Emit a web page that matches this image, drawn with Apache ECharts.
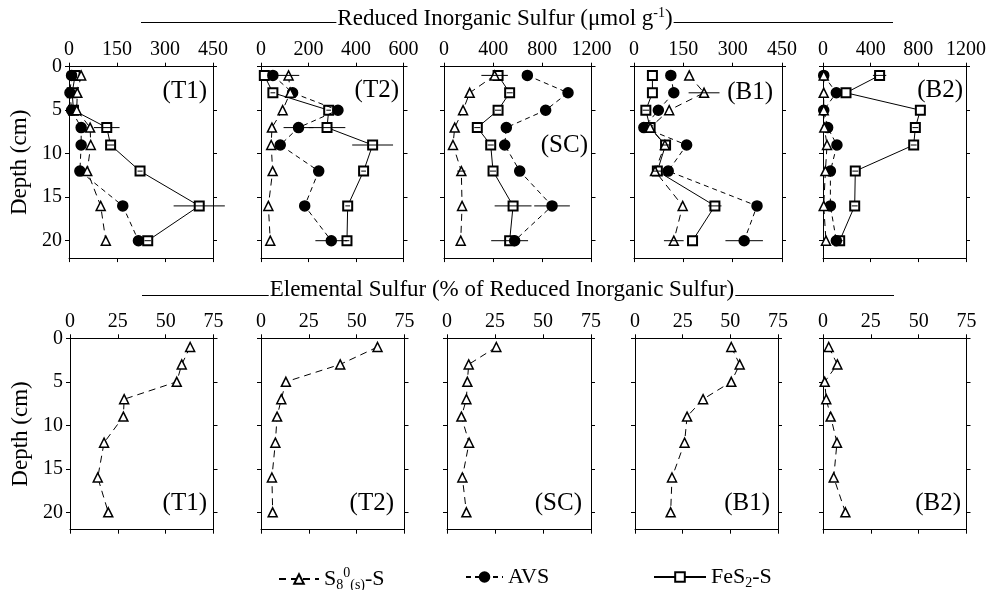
<!DOCTYPE html>
<html>
<head>
<meta charset="utf-8">
<script src="https://cdn.jsdelivr.net/npm/echarts@6/dist/echarts.min.js"></script>
<style>
  html, body { margin: 0; padding: 0; background: #fff; }
  #chart { width: 990px; height: 590px; }
</style>
</head>
<body>
<div id="chart"></div>
<script>
  const depths = [1, 3, 5, 7, 9, 12, 16, 20];
  const sites = ['T1', 'T2', 'SC', 'B1', 'B2'];

  // top row: reduced inorganic sulfur (umol/g), one row per site
  const risMax = [450, 600, 1200, 450, 1200];
  const risStep = [150, 200, 400, 150, 400];
  const s8Ris = [
    [38, 26, 24, 66, 68, 57, 99, 115],
    [116, 123, 91, 46, 43, 49, 31, 39],
    [412, 209, 155, 87, 73, 141, 147, 136],
    [168, 213, 107, 49, 94, 64, 148, 121],
    [6, 6, 6, 11, 34, 20, 6, 25]
  ];
  const avsRis = [
    [8, 3, 8, 38, 38, 34, 168, 217],
    [50, 133, 324, 158, 81, 243, 184, 296],
    [678, 1009, 827, 507, 494, 616, 879, 575],
    [112, 121, 74, 30, 160, 104, 374, 335],
    [6, 112, 6, 39, 117, 62, 62, 112]
  ];
  const fesRis = [
    [19, 10, 14, 118, 130, 222, 407, 246],
    [14, 50, 285, 278, 470, 432, 365, 362],
    [440, 534, 440, 271, 380, 399, 562, 534],
    [56, 56, 36, 49, 96, 71, 246, 178],
    [475, 193, 817, 775, 761, 271, 266, 140]
  ];
  // error bars (+/-)
  const s8Err = [
    [0, 0, 0, 0, 0, 0, 0, 0],
    [45, 0, 0, 0, 0, 0, 0, 0],
    [108, 0, 0, 0, 0, 33, 0, 0],
    [0, 47, 0, 0, 0, 0, 0, 30],
    [0, 0, 0, 0, 0, 0, 0, 0]
  ];
  const avsErr = [
    [0, 0, 0, 0, 0, 0, 0, 0],
    [0, 0, 0, 63, 0, 0, 0, 67],
    [0, 0, 0, 0, 0, 0, 145, 0],
    [0, 0, 0, 0, 0, 0, 0, 57],
    [0, 0, 0, 0, 0, 0, 0, 0]
  ];
  const fesErr = [
    [5, 3, 3, 40, 12, 8, 80, 10],
    [0, 10, 10, 77, 86, 10, 10, 10],
    [0, 25, 25, 25, 25, 25, 150, 150],
    [0, 0, 10, 0, 15, 15, 20, 0],
    [56, 0, 0, 25, 25, 25, 25, 25]
  ];

  // bottom row: elemental sulfur (% of RIS)
  const s8Pct = [
    [62.8, 58.4, 55.8, 28.3, 27.9, 17.8, 14.5, 20],
    [60.9, 41.4, 13, 10.6, 8.4, 7.5, 5.7, 6.1],
    [25.7, 11.3, 10.6, 10.1, 7.5, 11.5, 8, 10.1],
    [50.5, 54.9, 50.5, 35.7, 27.3, 26, 19.4, 18.7],
    [3, 7.5, 0.9, 1.7, 4, 7.3, 5.6, 11.7]
  ];
  const depthTicks = [0, 5, 10, 15, 20];

  const font = 'Liberation Serif';
  const topLeft = [69, 261, 444, 634, 823];
  const topWidth = [144, 142.5, 147.5, 148, 143];
  const botLeft = [70, 261, 447, 635, 823];
  const botWidth = [143.5, 143.5, 144, 143, 143.5];
  const topLabelPos = [[207, 91], [399, 90], [588, 145], [773, 92], [963, 90]];
  const botLabelX = [207, 394, 582, 770, 961];

  const grids = [], xAxes = [], yAxes = [], series = [], graphics = [];
  const black = '#000';

  function addPanel(g, left, top, width, max, step, showY) {
    grids.push({ left: left, top: top, width: width, height: 191.4 });
    const xBase = {
      gridIndex: g, type: 'value', min: 0, max: max, interval: step,
      axisLine: { show: true, onZero: false, lineStyle: { color: black, width: 1 } },
      axisTick: { show: true, length: 4, lineStyle: { color: black } },
      splitLine: { show: false }
    };
    xAxes.push(Object.assign({}, xBase, {
      position: 'top',
      axisLabel: { color: black, fontFamily: font, fontSize: 20, margin: 7, formatter: v => String(v) }
    }));
    xAxes.push(Object.assign({}, xBase, { position: 'bottom', axisLabel: { show: false } }));
    const yBase = {
      gridIndex: g, type: 'value', inverse: true, min: 0, max: 22, interval: 5,
      axisLine: { show: true, onZero: false, lineStyle: { color: black, width: 1 } },
      axisTick: { show: true, length: 4, lineStyle: { color: black }, customValues: depthTicks },
      splitLine: { show: false }
    };
    yAxes.push(Object.assign({}, yBase, {
      position: 'left',
      axisLabel: { show: showY, color: black, fontFamily: font, fontSize: 20, margin: 7, customValues: depthTicks },
      name: showY ? 'Depth (cm)' : '',
      nameLocation: 'middle', nameRotate: 90, nameGap: 38,
      nameTextStyle: { color: black, fontFamily: font, fontSize: 23 }
    }));
    yAxes.push(Object.assign({}, yBase, { position: 'right', axisLabel: { show: false } }));
  }

  function lineSeries(g, name, vals, symbol, size, fill, dash, z) {
    return {
      type: 'line', name: name, xAxisIndex: 2 * g, yAxisIndex: 2 * g,
      data: vals.map((v, i) => [v, depths[i]]),
      symbol: symbol, symbolSize: size,
      itemStyle: { color: fill, borderColor: black, borderWidth: symbol === 'rect' ? 2 : 1.5 },
      lineStyle: { color: black, width: 1, type: dash },
      z: z, silent: true
    };
  }

  function errSeries(g, vals, errs) {
    const rows = [];
    vals.forEach((v, i) => { if (errs[i] > 0) rows.push([v, depths[i], errs[i]]); });
    return {
      type: 'custom', name: 'err', xAxisIndex: 2 * g, yAxisIndex: 2 * g,
      data: rows, encode: { x: 0, y: 1 }, z: 10, silent: true,
      renderItem: function (params, api) {
        const y = api.value(1);
        const a = api.coord([api.value(0) - api.value(2), y]);
        const b = api.coord([api.value(0) + api.value(2), y]);
        return { type: 'line', shape: { x1: a[0], y1: a[1], x2: b[0], y2: b[1] },
                 style: { stroke: black, lineWidth: 1 } };
      }
    };
  }

  function panelLabel(text, x, y) {
    graphics.push({ type: 'text', x: x, y: y, z: 20,
      style: { text: text, fill: black, fontFamily: font, fontSize: 25, align: 'right', verticalAlign: 'middle' } });
  }

  sites.forEach((s, i) => {
    addPanel(i, topLeft[i], 66.7, topWidth[i], risMax[i], risStep[i], i === 0);
    series.push(lineSeries(i, 'FeS2', fesRis[i], 'rect', 9, '#fff', 'solid', 2));
    series.push(lineSeries(i, 'AVS', avsRis[i], 'circle', 10, black, [5, 4], 3));
    series.push(lineSeries(i, 'S8', s8Ris[i], 'triangle', 9, '#fff', [7, 5], 4));
    series.push(errSeries(i, fesRis[i], fesErr[i]));
    series.push(errSeries(i, avsRis[i], avsErr[i]));
    series.push(errSeries(i, s8Ris[i], s8Err[i]));
    panelLabel('(' + s + ')', topLabelPos[i][0], topLabelPos[i][1]);
  });
  sites.forEach((s, i) => {
    const g = i + 5;
    addPanel(g, botLeft[i], 338.3, botWidth[i], 75, 25, i === 0);
    series.push(lineSeries(g, 'S8', s8Pct[i], 'triangle', 9, '#fff', [7, 5], 4));
    panelLabel('(' + s + ')', botLabelX[i], 503);
  });

  const titleRich = {
    m: { fontFamily: font, fontSize: 23, fill: black, lineHeight: 26 },
    sup: { fontFamily: font, fontSize: 14, fill: black, lineHeight: 14, verticalAlign: 'top' }
  };
  graphics.push({ type: 'line', shape: { x1: 141, y1: 22.5, x2: 893, y2: 22.5 }, style: { stroke: black, lineWidth: 1 } });
  graphics.push({ type: 'text', x: 505, y: 19, z: 5,
    style: { text: '{m|Reduced Inorganic Sulfur (μmol g}{sup|-1}{m|)}', rich: titleRich,
             align: 'center', verticalAlign: 'middle', backgroundColor: '#fff', padding: [0, 1] } });
  graphics.push({ type: 'line', shape: { x1: 142, y1: 295.5, x2: 894, y2: 295.5 }, style: { stroke: black, lineWidth: 1 } });
  graphics.push({ type: 'text', x: 502, y: 290, z: 5,
    style: { text: '{m|Elemental Sulfur (% of Reduced Inorganic Sulfur)}', rich: titleRich,
             align: 'center', verticalAlign: 'middle', backgroundColor: '#fff', padding: [0, 1] } });

  const legendNames = {
    S8: '{m|S}{sub|8}{sup|0}{sub|(s)}{m|-S}',
    AVS: '{m|AVS}',
    FeS2: '{m|FeS}{sub|2}{m|-S}'
  };
  const legendText = {
    color: black, fontFamily: font, fontSize: 22,
    rich: {
      m: { color: black, fontFamily: font, fontSize: 22, lineHeight: 26 },
      sub: { color: black, fontFamily: font, fontSize: 14, lineHeight: 14, verticalAlign: 'bottom' },
      sup: { color: black, fontFamily: font, fontSize: 14, lineHeight: 14, verticalAlign: 'top' }
    }
  };
  function legendItem(name, left, w) {
    return { data: [name], left: left, top: 561, itemWidth: w, itemHeight: 12, selectedMode: false,
             formatter: n => legendNames[n], textStyle: legendText };
  }

  const chart = echarts.init(document.getElementById('chart'), null, { renderer: 'canvas' });
  chart.setOption({
    animation: false,
    backgroundColor: '#fff',
    grid: grids,
    xAxis: xAxes,
    yAxis: yAxes,
    series: series,
    legend: [legendItem('S8', 273, 40), legendItem('AVS', 460, 37), legendItem('FeS2', 648, 52)],
    graphic: graphics
  });
</script>
</body>
</html>
